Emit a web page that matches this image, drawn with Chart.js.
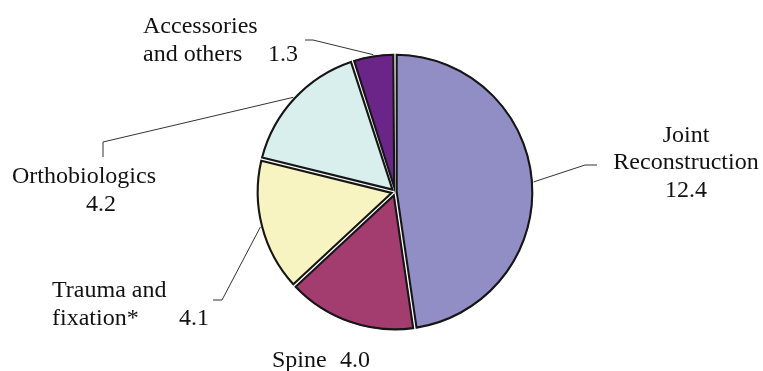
<!DOCTYPE html>
<html>
<head>
<meta charset="utf-8">
<script src="https://cdn.jsdelivr.net/npm/chart.js@4/dist/chart.umd.min.js"></script>
<style>
  html, body { margin: 0; padding: 0; background: #fff; }
</style>
</head>
<body>
<canvas id="pieChart" width="763" height="371"></canvas>
<script>
// market segments, clockwise from 12 o'clock
const segments = ['Joint Reconstruction', 'Spine', 'Trauma and fixation*', 'Orthobiologics', 'Accessories and others'];
const values = [12.4, 4.0, 4.1, 4.2, 1.3];
const colors = ['#918dc5', '#a33d6f', '#f8f4c2', '#d8efed', '#6b2589'];

// label text lines per slice ({v} = value), with x / baseline / align
const labelLines = [
    [['Joint', 686, 142, 'center'], ['Reconstruction', 686, 169, 'center'], ['{v}', 686, 197, 'center']],
    [['Spine', 272, 367, 'left'], ['{v}', 340, 367, 'left']],
    [['Trauma and', 52, 297, 'left'], ['fixation*', 52, 325, 'left'], ['{v}', 179, 325, 'left']],
    [['Orthobiologics', 12, 183, 'left'], ['{v}', 86, 211, 'left']],
    [['Accessories', 143, 33, 'left'], ['and others', 143, 61, 'left'], ['{v}', 268, 61, 'left']]
];
// leader line path, from the slice edge outwards (empty = no leader)
const leaderPaths = [
    [[585, 165], [597, 165]],
    [],
    [[222, 300], [213, 300]],
    [[103, 142], [103, 157]],
    [[313, 40], [305, 40]]
];

// every slice gets its own black outline, pulled in a little so that
// neighbouring slices show a thin white seam between them
const outlinePlugin = {
    id: 'sliceOutlines',
    afterDatasetsDraw(chart) {
        const ctx = chart.ctx;
        const inset = 1.7;
        ctx.save();
        ctx.strokeStyle = '#161616';
        ctx.lineWidth = 2.1;
        ctx.lineJoin = 'miter';
        chart.getDatasetMeta(0).data.forEach(arc => {
            const p = arc.getProps(['x', 'y', 'startAngle', 'endAngle', 'outerRadius'], true);
            const half = (p.endAngle - p.startAngle) / 2;
            const mid = p.startAngle + half;
            const shift = Math.min(inset / Math.sin(half), 5);
            const r = p.outerRadius - inset;
            const trim = Math.asin(inset / r);
            ctx.beginPath();
            ctx.moveTo(p.x + Math.cos(mid) * shift, p.y + Math.sin(mid) * shift);
            ctx.arc(p.x, p.y, r, p.startAngle + trim, p.endAngle - trim);
            ctx.closePath();
            ctx.stroke();
        });
        ctx.restore();
    }
};

const labelPlugin = {
    id: 'sliceLabels',
    afterDatasetsDraw(chart) {
        const ctx = chart.ctx;
        const arcs = chart.getDatasetMeta(0).data;
        ctx.save();
        ctx.strokeStyle = '#333';
        ctx.lineWidth = 1;
        arcs.forEach((arc, i) => {
            const path = leaderPaths[i];
            if (!path.length) return;
            const p = arc.getProps(['x', 'y', 'startAngle', 'endAngle', 'outerRadius'], true);
            const mid = (p.startAngle + p.endAngle) / 2;
            ctx.beginPath();
            ctx.moveTo(p.x + Math.cos(mid) * p.outerRadius, p.y + Math.sin(mid) * p.outerRadius);
            path.forEach(pt => ctx.lineTo(pt[0], pt[1]));
            ctx.stroke();
        });
        ctx.fillStyle = '#111';
        ctx.font = '24px "Liberation Serif", "Times New Roman", serif';
        ctx.textBaseline = 'alphabetic';
        labelLines.forEach((lines, i) => {
            lines.forEach(([txt, x, y, align]) => {
                ctx.textAlign = align;
                ctx.fillText(txt === '{v}' ? values[i].toFixed(1) : txt, x, y);
            });
        });
        ctx.restore();
    }
};

new Chart(document.getElementById('pieChart'), {
    type: 'pie',
    data: {
        labels: segments,
        datasets: [{
            data: values,
            backgroundColor: colors,
            borderColor: '#ffffff',
            borderWidth: 2
        }]
    },
    options: {
        responsive: false,
        animation: false,
        layout: { padding: { left: 255, right: 228, top: 52, bottom: 39 } },
        plugins: { legend: { display: false }, tooltip: { enabled: false } }
    },
    plugins: [outlinePlugin, labelPlugin]
});
</script>
</body>
</html>
